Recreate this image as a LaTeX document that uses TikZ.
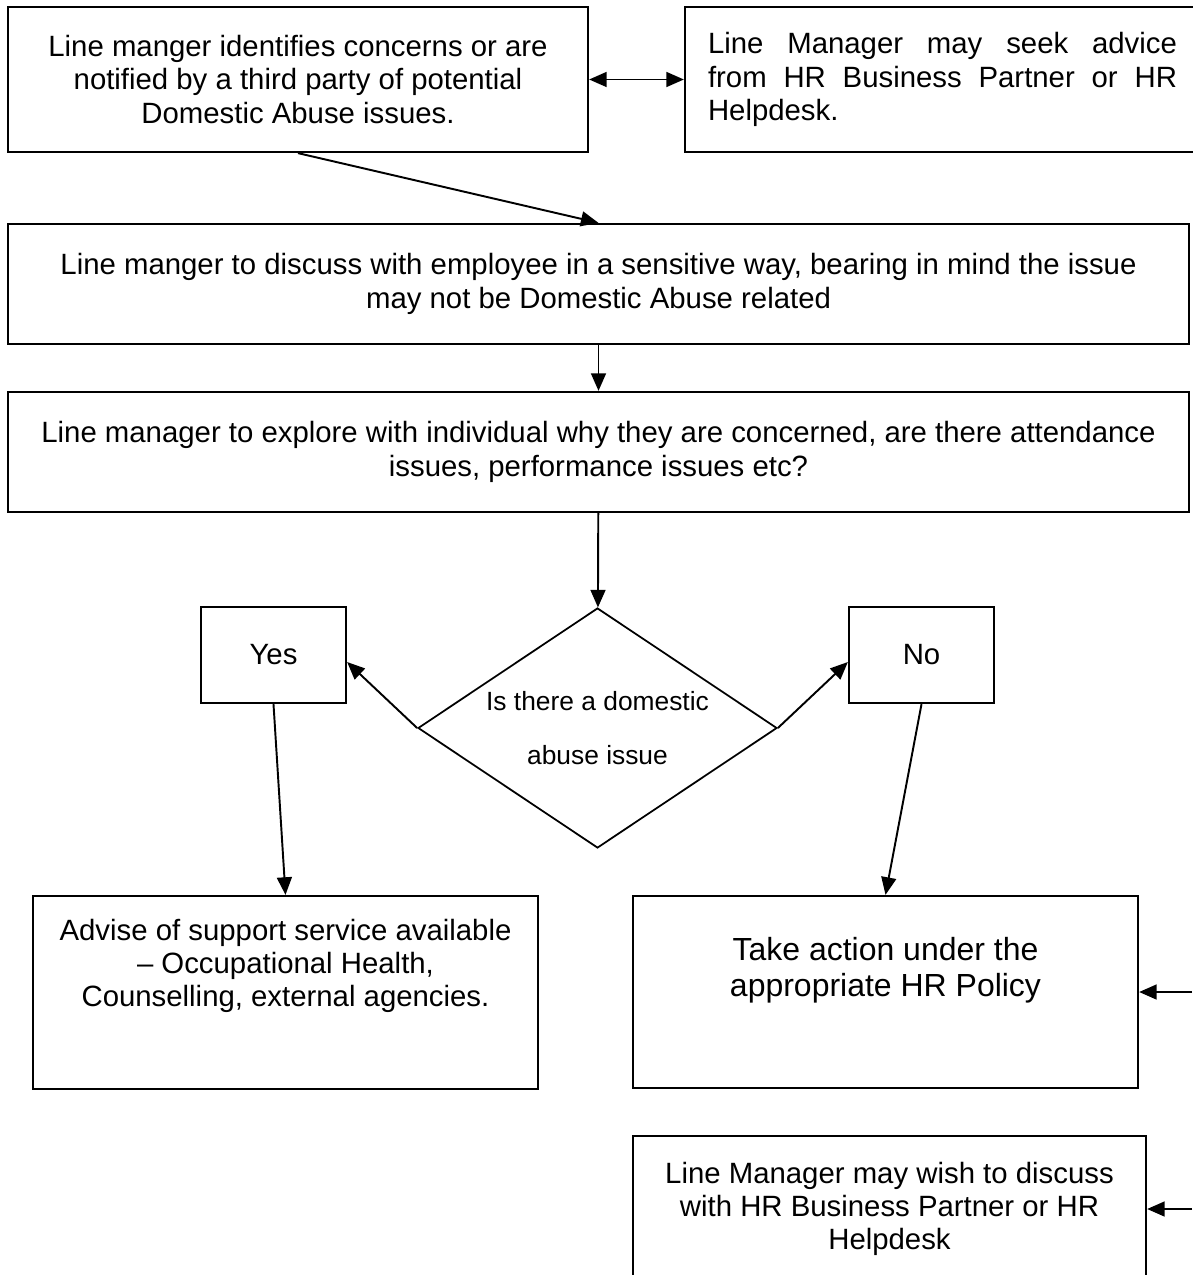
\documentclass[tikz,border=0pt]{standalone}
\usepackage{fontspec}
\setmainfont{Liberation Sans}
\usetikzlibrary{arrows.meta,shapes.geometric}

\begin{document}
\begin{tikzpicture}[
    box/.style={draw, line width=1.3pt, inner sep=0pt, align=center, font=\fontsize{16.7}{19}\selectfont},
    txt/.style={inner sep=0pt, align=center, font=\fontsize{16.7}{19}\selectfont},
    arrow/.style={line width=1.1pt, -{Triangle[length=10pt,width=8.5pt]}},
    both/.style={line width=1.1pt, {Triangle[length=10pt,width=8.5pt]}-{Triangle[length=10pt,width=8.5pt]}}]

        \useasboundingbox (0,0) rectangle (23.84,-25.5);

        \node[box, minimum width=11.6cm, minimum height=2.9cm] (notified) at (5.96,-1.59) {Line manger identifies concerns or are\\notified by a third party of potential\\Domestic Abuse issues.};
        \node[box, minimum width=10.3cm, minimum height=2.9cm, text width=9.38cm, align=justify] (seekAdvice) at (18.85,-1.59) {Line Manager may seek advice\linebreak from HR Business Partner or HR\linebreak Helpdesk.};
        \node[box, minimum width=23.62cm, minimum height=2.4cm] (discuss) at (11.97,-5.68) {Line manger to discuss with employee in a sensitive way, bearing in mind the issue\\may not be Domestic Abuse related};
        \node[box, minimum width=23.62cm, minimum height=2.4cm] (explore) at (11.97,-9.04) {Line manager to explore with individual why they are concerned, are there attendance\\issues, performance issues etc?};
        \node[draw, diamond, shape aspect=1.6, line width=1pt, minimum width=7.18cm, minimum height=4.8cm, inner sep=0pt, align=center, font=\fontsize{15}{17}\selectfont] (isThere) at (11.95,-14.56) {Is there a domestic\\[14pt]abuse issue};
        \node[box, minimum width=2.9cm, minimum height=1.92cm] (yes) at (5.47,-13.1) {Yes};
        \node[box, minimum width=2.9cm, minimum height=1.92cm] (no) at (18.43,-13.1) {No};
        \node[box, minimum width=10.1cm, minimum height=3.86cm] (advise) at (5.71,-19.85) {};
        \node[txt] (adviseText) at (5.71,-19.32) {Advise of support service available\\– Occupational Health,\\Counselling, external agencies.};
        \node[box, minimum width=10.1cm, minimum height=3.84cm] (takeAction) at (17.71,-19.84) {};
        \node[txt, font=\fontsize{18.2}{20.5}\selectfont] (actionText) at (17.71,-19.4) {Take action under the\\appropriate HR Policy};
        \node[box, minimum width=10.26cm, minimum height=2.92cm] (wishDiscuss) at (17.79,-24.18) {Line Manager may wish to discuss\\with HR Business Partner or HR\\Helpdesk};

        \coordinate (feedA) at (23.84,-19.84);
        \coordinate (feedB) at (23.84,-24.18);

        \draw[both] (notified) to (seekAdvice);
        \draw[arrow] (notified.south) to (discuss.north);
        \draw[arrow] (discuss) to (explore);
        \draw[arrow] (explore) to (isThere);
        \draw[arrow] (isThere.west) to ([yshift=-4pt]yes.east);
        \draw[arrow] (isThere.east) to ([yshift=-4pt]no.west);
        \draw[arrow] (yes.south) to (advise.north);
        \draw[arrow] (no.south) to (takeAction.north);
        \draw[arrow] (feedA) to (takeAction.east);
        \draw[arrow] (feedB) to (wishDiscuss.east);

        % frecce dal margine destro
\end{tikzpicture}
\end{document}
